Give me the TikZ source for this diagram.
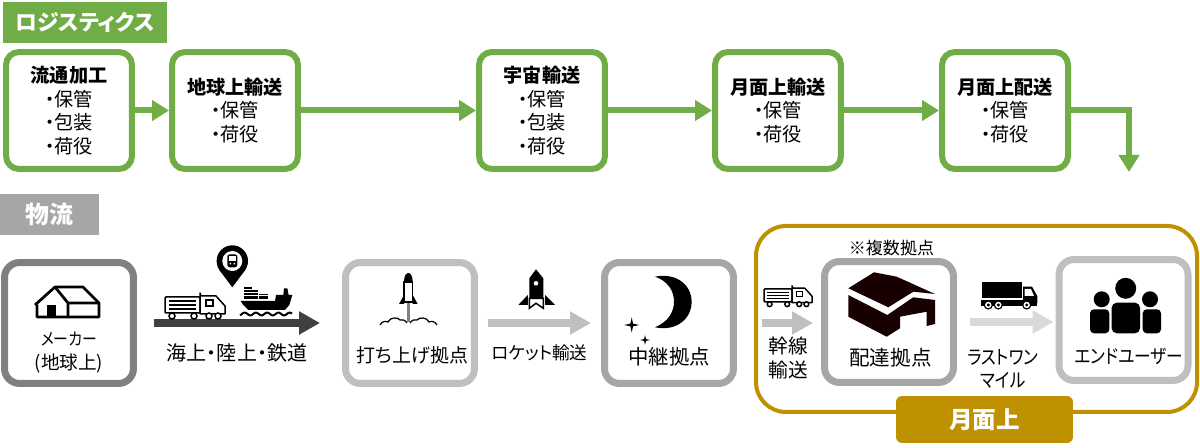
\documentclass[tikz,border=0pt]{standalone}
\usepackage{fontspec}
\setmainfont[RawFeature=+palt]{Noto Sans CJK JP}
\newfontfamily\kanafont[RawFeature=+palt,FakeStretch=.86]{Noto Sans CJK JP}
\usetikzlibrary{arrows.meta}
\definecolor{logigreen}{HTML}{70AD47}
\definecolor{moongold}{HTML}{BF9000}
\definecolor{tagGray}{HTML}{A6A6A6}
\tikzset{
    greenbox/.style={draw=logigreen, line width=.12cm, rounded corners=.26cm, minimum width=2.52cm, minimum height=2.34cm, inner sep=0pt, align=center, font=\fontsize{10.9}{13.4}\selectfont},
    graybox/.style={draw=#1, fill=white, line width=.14cm, rounded corners=.3cm, minimum width=2.58cm, minimum height=2.42cm, inner sep=0pt},
    tagbox/.style={fill=#1, text=white, inner sep=0pt},
    label/.style={align=center, inner sep=0pt, font=\fontsize{#1}{13.6}\selectfont},
    kanalabel/.style={align=center, inner sep=0pt, font=\kanafont\fontsize{#1}{13.6}\selectfont},
    greenarrow/.style={draw=logigreen, line width=.12cm, -{Triangle[length=.34cm,width=.4cm]}},
    grayarrow/.style={draw=#1, line width=.15cm, -{Triangle[length=.42cm,width=.44cm]}},
    pics/linetruck/.style={code={
        \draw[line width=.03cm, rounded corners=.02cm] (0,0) rectangle (35,16);
        \foreach \i in {4,8,12} \draw[line width=.025cm] (4,\i) -- (31,\i);
        \draw[line width=.03cm, line join=round] (35,-4) -- (36,-1) -- (51,-1) -- (60,9) -- (60,17) -- (35,17) -- cycle;
        \draw[line width=.025cm] (41,3) rectangle (48,9);
        \foreach \i in {7,29,44,53} \draw[fill=white, line width=.03cm] (\i,19) circle (3);
    }},
    pics/sparkle/.style={code={
        \fill (-#1,0) -- ({-.18*#1},{-.18*#1}) -- (0,-#1) -- ({.18*#1},{-.18*#1}) -- (#1,0) -- ({.18*#1},{.18*#1}) -- (0,#1) -- ({-.18*#1},{.18*#1}) -- cycle;
    }}
}
\begin{document}
\begin{tikzpicture}[x=.02cm, y=-.02cm]
        \useasboundingbox (0,0) rectangle (1200,448);

        \node[tagbox=logigreen, minimum width=3.28cm, minimum height=.82cm, font=\fontsize{12.4}{16}\selectfont\bfseries] at (85,22.5) (logitag) {ロジスティクス};
        \node[tagbox=tagGray, minimum width=1.98cm, minimum height=.82cm, font=\fontsize{13.6}{16}\selectfont\bfseries] at (49.5,214.5) (flowtag) {物流};

        \node[greenbox] at (69,110.5) (process) {\textbf{流通加工}\\・保管\\・包装\\・荷役};
        \node[greenbox] at (235,110.5) (ground) {\textbf{地球上輸送}\\・保管\\・荷役};
        \node[greenbox] at (542,110.5) (space) {\textbf{宇宙輸送}\\・保管\\・包装\\・荷役};
        \node[greenbox] at (778,110.5) (lunar) {\textbf{月面上輸送}\\・保管\\・荷役};
        \node[greenbox] at (1005,110.5) (lunardrop) {\textbf{月面上配送}\\・保管\\・荷役};
        \coordinate (logiend) at (1129,172);
        \draw[greenarrow] (process) -- (ground);
        \draw[greenarrow] (ground) -- (space);
        \draw[greenarrow] (space) -- (lunar);
        \draw[greenarrow] (lunar) -- (lunardrop);
        \draw[greenarrow] (lunardrop) -| (logiend);

        \draw[moongold, line width=.08cm, rounded corners=.6cm] (756,226) rectangle (1197,412);
        \node[fill=moongold, text=white, rounded corners=.12cm, minimum width=3.54cm, minimum height=.94cm, inner sep=0pt, font=\fontsize{13.4}{15}\selectfont\bfseries] at (984.5,419.5) (moontag) {月面上};

        \node[graybox=black!50] at (69,323) (maker) {};
        \node[graybox=black!25] at (410,323) (launch) {};
        \node[graybox=tagGray] at (669,323) (relay) {};
        \node[graybox=tagGray] at (889,322) (depot) {};
        \node[graybox=black!25] at (1123.5,320) (enduser) {};

        \draw[grayarrow=black!75, shorten <=.34cm, shorten >=.44cm] (maker) -- (launch);
        \draw[grayarrow=black!25, shorten <=.2cm, shorten >=.2cm] (launch) -- (relay);
        \draw[grayarrow=black!25, shorten <=.5cm, shorten >=.16cm] (relay.east) -- (relay.east -| depot.west);
        \draw[grayarrow=black!15, shorten <=.26cm, shorten >=.04cm] (depot.east) -- (depot.east -| enduser.west);

        \node[label=10.6] at (69,353) (makertext) {{\kanafont\fontsize{9.8}{13.6}\selectfont メーカー}\\(地球上)};
        \node[label=11.4] at (237,353) (routetext) {海上・陸上・鉄道};
        \node[label=10.8] at (412.5,355) (launchtext) {打ち上げ拠点};
        \node[label=10] at (539.5,353) (rockettext) {ロケット輸送};
        \node[label=11.6] at (669,357) (relaytext) {中継拠点};
        \node[label=9.7] at (891.5,248) (manytext) {※複数拠点};
        \node[label=11.2] at (788,358) (trunktext) {幹線\\輸送};
        \node[label=11.7] at (890.5,358) (depottext) {配達拠点};
        \node[kanalabel=11] at (1003,369) (lastmiletext) {ラストワン\\マイル};
        \node[kanalabel=11] at (1129,356) (endusertext) {エンドユーザー};

        % house
        \draw[line width=.055cm, line join=round, fill=white] (35,305) -- (55,287) -- (83,287) -- (99,303) -- (99,317) -- (37,317) -- (37,305);
        \draw[line width=.055cm, line join=round] (55,287) -- (68,303) -- (99,303) (68,303) -- (68,317);
        \fill (47,305) rectangle (56,317);

        \pic at (165,297) {linetruck};

        % ship
        \fill (240.7,301) -- (275,301) -- (276,295) -- (283.3,295) -- (284,288.3) -- (287.3,288.3) -- (288.7,295) -- (292.3,295) -- (289.3,305) -- (285,310) -- (248.3,310) -- (243.3,305) -- cycle;
        \fill (244.3,287) rectangle (251.7,299);
        \fill (252.3,290) rectangle (258,299);
        \fill (258.6,294) rectangle (268,299);
        \foreach \i in {289.5,292.5,295.5} \draw[white, line width=.015cm] (243,\i) -- (269,\i);
        \draw[line width=.04cm] plot[domain=240:292, samples=50] (\x,{314+1.4*sin(\x*32)});

        % pin
        \fill (232.3,261) circle (15.7);
        \fill (219,269.5) -- (232.3,287.3) -- (245.6,269.5) -- cycle;
        \fill[white] (232.3,261) circle (10);
        \fill[rounded corners=.05cm] (227.3,254.3) rectangle (237.3,267.3);
        \fill[white] (229,256.5) rectangle (235.6,261.5);
        \fill[white] (229.5,263) rectangle (231,264.5) (233.6,263) rectangle (235.1,264.5);

        % launch rocket
        \fill[black!50] (406.7,303) rectangle (410,322);
        \draw[line width=.03cm, fill=white] (404,282) rectangle (412.7,302);
        \fill (404,282) .. controls (404,276) and (406,273) .. (408.3,273) .. controls (410.7,273) and (412.7,276) .. (412.7,282) -- cycle;
        \fill (399,304) -- (404,295) -- (404,304) -- cycle (417.7,304) -- (412.7,295) -- (412.7,304) -- cycle;
        \draw[line width=.025cm] (380,325) .. controls (382,321) and (386,321) .. (388,322) .. controls (390,317) and (398,317) .. (400,320) .. controls (402,319) and (405,320) .. (407,323);
        \draw[line width=.025cm] (437,325) .. controls (435,321) and (431,321) .. (429,322) .. controls (427,317) and (419,317) .. (417,320) .. controls (415,319) and (412,320) .. (410,323);

        % transit rocket
        \fill (529.3,278.3) -- (536,269.3) -- (543.3,278.3) -- (543.3,298.3) -- (529.3,298.3) -- cycle;
        \draw[line width=.03cm, fill=white] (529.3,298.3) -- (529.3,308.3) -- (536,303.3) -- (543.3,308.3) -- (543.3,298.3) -- cycle;
        \fill[white] (536,283.3) circle (2.3);
        \fill (518.3,305) -- (527.8,295) -- (527.8,305) -- cycle (555,305) -- (545,295) -- (545,305) -- cycle;

        % moon and stars
        \fill (655,276.7) .. controls (678,272) and (692,287) .. (691.7,301.7) .. controls (692,317) and (678,332) .. (655,327.3) .. controls (668,322) and (674,312) .. (674,301.7) .. controls (674,291) and (668,281) .. cycle;
        \pic at (631.7,325) {sparkle=7.5};
        \pic at (645,340) {sparkle=5};

        \pic[scale=.8] at (764,289) {linetruck};

        % depot building
        \fill[black!90!red] (848.3,288.3) -- (874,272.3) -- (896.7,276.7) -- (935,294) -- (913.3,291.7) -- (888.3,307.3) -- cycle;
        \fill[black!90!red] (848.3,295) -- (887.3,315) -- (913.3,297.3) -- (935,300) -- (935,324) -- (926.7,326) -- (926.7,311.7) -- (900,316.7) -- (900,328.3) -- (886.7,336.7) -- (848.3,316.7) -- cycle;

        % box truck
        \fill (982.3,281.7) rectangle (1021.7,298.3);
        \fill (980.7,300) rectangle (1037.3,306);
        \fill (1023,286.7) -- (1032,286.7) -- (1037.3,296) -- (1037.3,303) -- (1023,303) -- cycle;
        \fill[white] (1024.5,289) -- (1031,289) -- (1034,296) -- (1024.5,296) -- cycle;
        \foreach \i in {988.3,998.3,1026.7} {
            \fill (\i,305) circle (4.6);
            \fill[white] (\i,305) circle (3.2);
            \fill (\i,305) circle (1.7);
        }

        % people
        \fill (1125.7,288.3) circle (10.5);
        \fill (1101.7,299.3) circle (8);
        \fill (1150,299.3) circle (8);
        \fill[rounded corners=.1cm] (1111.7,333.3) -- (1111.7,302.7) -- (1140,302.7) -- (1140,333.3) -- cycle;
        \fill[rounded corners=.08cm] (1090,333.3) -- (1090,309.3) -- (1109.3,309.3) -- (1109.3,333.3) -- cycle;
        \fill[rounded corners=.08cm] (1142.7,333.3) -- (1142.7,309.3) -- (1161,309.3) -- (1161,333.3) -- cycle;
    \end{tikzpicture}
\end{document}
